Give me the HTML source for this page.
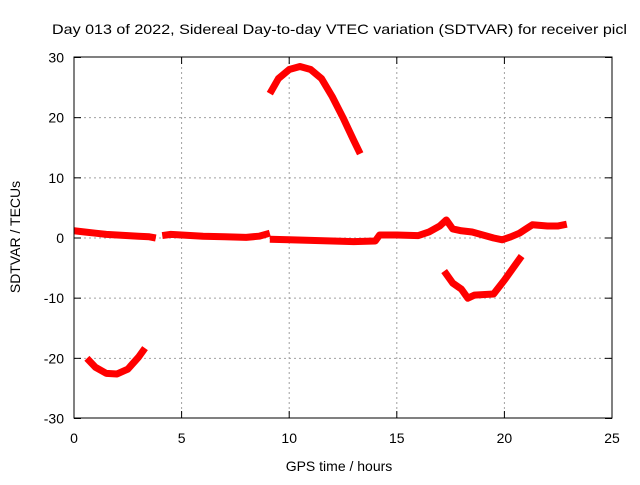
<!DOCTYPE html>
<html><head><meta charset="utf-8"><style>
body{margin:0;background:#fff;}
svg text{font-family:"Liberation Sans",sans-serif;font-size:14px;fill:#000;}
</style></head><body>
<svg id="chart" width="640" height="480" xmlns="http://www.w3.org/2000/svg">
<rect width="640" height="480" fill="#fff"/>
<g id="grid"></g>
<g id="series"></g>
<rect x="74" y="57" width="538" height="361" fill="none" stroke="#000" stroke-width="1"/>
<g id="ticks"></g>
<text x="52" y="34" textLength="575" lengthAdjust="spacingAndGlyphs">Day 013 of 2022, Sidereal Day-to-day VTEC variation (SDTVAR) for receiver picl</text>
<text x="339" y="471" text-anchor="middle">GPS time / hours</text>
<text transform="translate(20,237) rotate(-90)" text-anchor="middle">SDTVAR / TECUs</text>
</svg>
<script>
const xTicks=[0,5,10,15,20,25];
const yTicks=[-30,-20,-10,0,10,20,30];
const seriesMain1=[[0,1.2],[0.5,1],[1,0.8],[1.5,0.6],[2,0.5],[2.5,0.4],[3,0.3],[3.5,0.2],[3.8,0]];
const seriesMain2=[[4.1,0.4],[4.5,0.6],[5,0.5],[6,0.3],[7,0.2],[8,0.1],[8.6,0.3],[9.1,0.8]];
const seriesMain3=[[9.1,-0.2],[10,-0.3],[11,-0.4],[12,-0.5],[13,-0.6],[14,-0.5],[14.2,0.5],[15,0.5],[16,0.4],[16.5,1],[17,2],[17.3,3],[17.6,1.5],[18,1.2],[18.5,1],[19,0.5],[19.5,0],[19.9,-0.3],[20.3,0.2],[20.7,0.8],[21,1.5],[21.3,2.2],[22,2],[22.5,2],[22.9,2.3]];
const seriesArcHigh=[[9.1,24],[9.5,26.5],[10,28],[10.5,28.5],[11,28],[11.5,26.5],[12,23.5],[12.5,20],[13,16.2],[13.3,14]];
const seriesArcLow=[[0.6,-20],[1,-21.5],[1.5,-22.5],[2,-22.6],[2.5,-21.8],[3,-19.8],[3.3,-18.3]];
const seriesDip=[[17.2,-5.5],[17.6,-7.5],[18,-8.5],[18.3,-10],[18.6,-9.5],[19.5,-9.3],[20,-7],[20.4,-5],[20.8,-3]];
const allSeries=[seriesMain1,seriesMain2,seriesMain3,seriesArcHigh,seriesArcLow,seriesDip];
const names=['main-series-part1','main-series-part2','main-series-part3','arc-high-series','arc-low-series','dip-series'];
const X=v=>74+v*(538/25), Y=v=>238-v*(361/60);
const NS='http://www.w3.org/2000/svg';
const grid=document.getElementById('grid'),ticks=document.getElementById('ticks'),ser=document.getElementById('series');
function mk(tag,attrs,parent){const e=document.createElementNS(NS,tag);for(const k in attrs)e.setAttribute(k,attrs[k]);parent.appendChild(e);return e;}
xTicks.forEach(t=>{const x=X(t);
 if(t>0&&t<25){const g=mk('line',{x1:x,x2:x,y1:57,y2:418,stroke:'#a0a0a0','stroke-dasharray':'2,3'},grid);
 
 }
 mk('line',{x1:x,x2:x,y1:418,y2:411,stroke:'#000'},ticks);
 mk('line',{x1:x,x2:x,y1:57,y2:64,stroke:'#000'},ticks);
 const l=mk('text',{x:x,y:443,'text-anchor':'middle'},ticks);l.textContent=t;
 
 });
yTicks.forEach(t=>{const y=Y(t);
 if(t>-30&&t<30){const g=mk('line',{x1:74,x2:612,y1:y,y2:y,stroke:'#a0a0a0','stroke-dasharray':'2,3'},grid);
 
 }
 mk('line',{x1:74,x2:81,y1:y,y2:y,stroke:'#000'},ticks);
 mk('line',{x1:612,x2:605,y1:y,y2:y,stroke:'#000'},ticks);
 const l=mk('text',{x:64,y:y+5,'text-anchor':'end'},ticks);l.textContent=t;
 
 });
allSeries.forEach((s,i)=>{const p=mk('polyline',{points:s.map(d=>X(d[0])+','+Y(d[1])).join(' '),fill:'none',stroke:'#ff0000','stroke-width':7,'stroke-linejoin':'round'},ser);
 
 });
</script>
</body></html>
